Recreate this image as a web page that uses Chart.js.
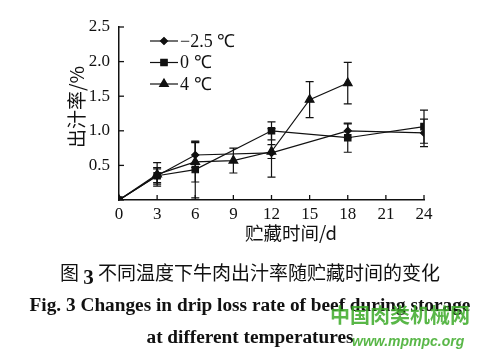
<!DOCTYPE html>
<html><head><meta charset="utf-8">
<script src="https://cdn.jsdelivr.net/npm/chart.js@4/dist/chart.umd.min.js"></script>
<style>
html,body{margin:0;padding:0;background:#fff;}
#wrap{position:relative;width:500px;height:358px;overflow:hidden;}
canvas{position:absolute;left:0;top:0;}
.cap{position:absolute;left:0;width:500px;text-align:center;color:#111;white-space:nowrap;}
#c1{top:258px;font-family:"Noto Sans CJK SC","Noto Sans",sans-serif;font-size:19px;}
#c1 b{font-family:"Liberation Serif",serif;font-size:21px;position:relative;top:4px;}
#c2{top:294px;font-family:"Liberation Serif",serif;font-weight:bold;font-size:19.3px;}
#c3{top:326px;font-family:"Liberation Serif",serif;font-weight:bold;font-size:19.3px;}
.wm{position:absolute;color:rgba(60,170,40,0.85);white-space:nowrap;}
#w1{left:330px;top:300px;font-family:"Noto Sans CJK SC",sans-serif;font-size:20px;font-weight:bold;}
#w2{left:352px;top:333px;font-family:"Liberation Sans",sans-serif;font-style:italic;font-size:14px;font-weight:bold;}
</style></head>
<body><div id="wrap">
<canvas id="chart" width="500" height="358"></canvas>
<div class="cap" id="c1">图 <b>3</b> 不同温度下牛肉出汁率随贮藏时间的变化</div>
<div class="cap" id="c2">Fig. 3 Changes in drip loss rate of beef during storage</div>
<div class="cap" id="c3">at different temperatures</div>
<div class="wm" id="w1">中国肉类机械网</div>
<div class="wm" id="w2">www.mpmpc.org</div>
</div>
<script>
// ---- data ----
const seriesNames = ["\u22122.5 \u2103", "0 \u2103", "4 \u2103"];
const daysA = [0, 3, 6, 12, 18, 24];
const valA  = [0, 0.35, 0.65, 0.68, 1.00, 0.97];
const errA  = [0, 0.10, 0.18, 0.35, 0.10, 0.20];
const daysB = [0, 3, 6, 12, 18, 24];
const valB  = [0, 0.35, 0.44, 1.00, 0.90, 1.06];
const errB  = [0, 0.12, 0.41, 0.13, 0.21, 0.24];
const daysC = [0, 3, 6, 9, 12, 15, 18];
const valC  = [0, 0.37, 0.55, 0.57, 0.70, 1.45, 1.69];
const errC  = [0, 0.17, 0.29, 0.18, 0.10, 0.26, 0.30];
const xTicks = [0, 3, 6, 9, 12, 15, 18, 21, 24];
const yTicks = [0, 0.5, 1.0, 1.5, 2.0, 2.5];
const xTitle = "贮藏时间/d";
const yTitle = "出汁率/%";

function pts(d, v, e){ return d.map((x,i)=>({x:x, y:v[i], e:e[i]})); }
const INK = "#111";
const styles = [
  {pointStyle:"rectRot", pointRadius:3.5},
  {pointStyle:"rect", pointRadius:4.5},
  {pointStyle:"triangle", pointRadius:5}
];
const datasets = [pts(daysA,valA,errA), pts(daysB,valB,errB), pts(daysC,valC,errC)].map((d,i)=>({
  label: seriesNames[i], data: d, borderColor: INK, backgroundColor: INK,
  pointBackgroundColor: INK, pointBorderColor: INK, borderWidth: 1.2,
  pointStyle: styles[i].pointStyle, pointRadius: styles[i].pointRadius, tension: 0
}));

const serif = "Liberation Serif";
const deco = {
  id: "deco",
  afterDatasetsDraw(chart){
    const ctx = chart.ctx, xs = chart.scales.x, ys = chart.scales.y;
    ctx.save();
    ctx.strokeStyle = INK; ctx.lineWidth = 1.2;
    // error bars
    chart.data.datasets.forEach(ds=>{
      ds.data.forEach(p=>{
        if(!p.e) return;
        const px = xs.getPixelForValue(p.x);
        const t = ys.getPixelForValue(p.y + p.e), b = ys.getPixelForValue(p.y - p.e);
        ctx.beginPath();
        ctx.moveTo(px, t); ctx.lineTo(px, b);
        ctx.moveTo(px-4, t); ctx.lineTo(px+4, t);
        ctx.moveTo(px-4, b); ctx.lineTo(px+4, b);
        ctx.stroke();
      });
    });
    // inward ticks
    ctx.lineWidth = 1.3;
    xTicks.forEach(v=>{ const px = xs.getPixelForValue(v); ctx.beginPath(); ctx.moveTo(px, ys.bottom); ctx.lineTo(px, ys.bottom-5); ctx.stroke(); });
    yTicks.forEach(v=>{ const py = ys.getPixelForValue(v); ctx.beginPath(); ctx.moveTo(xs.left, py); ctx.lineTo(xs.left+5, py); ctx.stroke(); });
    // legend
    ctx.font = "18px '" + serif + "'"; ctx.fillStyle = INK; ctx.textBaseline = "middle";
    const lx = 150, ly0 = 41, dy = 21.5;
    chart.data.datasets.forEach((ds,i)=>{
      const y = ly0 + i*dy;
      ctx.lineWidth = 1.2;
      ctx.beginPath(); ctx.moveTo(lx, y); ctx.lineTo(lx+28, y); ctx.stroke();
      Chart.helpers.drawPoint(ctx, {pointStyle: ds.pointStyle, radius: ds.pointRadius, borderWidth: 1}, lx+14, y);
      ctx.fill();
      ctx.fillText(ds.label, lx+30, y+1);
    });
    // axis titles
    ctx.font = "18.5px 'Noto Sans CJK SC'"; ctx.textAlign = "center";
    ctx.fillText(xTitle, 291, 233);
    ctx.font = "19px 'Noto Sans CJK SC'";
    ctx.translate(77, 107); ctx.rotate(-Math.PI/2);
    ctx.fillText(yTitle, 0, 0);
    ctx.restore();
  }
};

new Chart(document.getElementById("chart"), {
  type: "line",
  data: { datasets },
  plugins: [deco],
  options: {
    responsive: false, animation: false,
    layout: { padding: { left: 0, right: 76, top: 27, bottom: 116 } },
    plugins: { legend: { display: false }, tooltip: { enabled: false } },
    scales: {
      x: {
        type: "linear", min: 0, max: 24,
        afterBuildTicks: s => { s.ticks = xTicks.map(v=>({value:v})); },
        afterFit: s => { s.height = 42; },
        grid: { display: false, drawTicks: false },
        border: { display: true, color: INK, width: 1.5 },
        ticks: { color: INK, padding: 4, font: { family: serif, size: 17 } }
      },
      y: {
        min: 0, max: 2.5,
        afterBuildTicks: s => { s.ticks = yTicks.map(v=>({value:v})); },
        afterFit: s => { s.width = 119; },
        grid: { display: false, drawTicks: false },
        border: { display: true, color: INK, width: 1.5 },
        ticks: { color: INK, padding: 9, font: { family: serif, size: 17 },
          callback: v => v === 0 ? "" : v.toFixed(1) }
      }
    }
  }
});
</script>
</body></html>
